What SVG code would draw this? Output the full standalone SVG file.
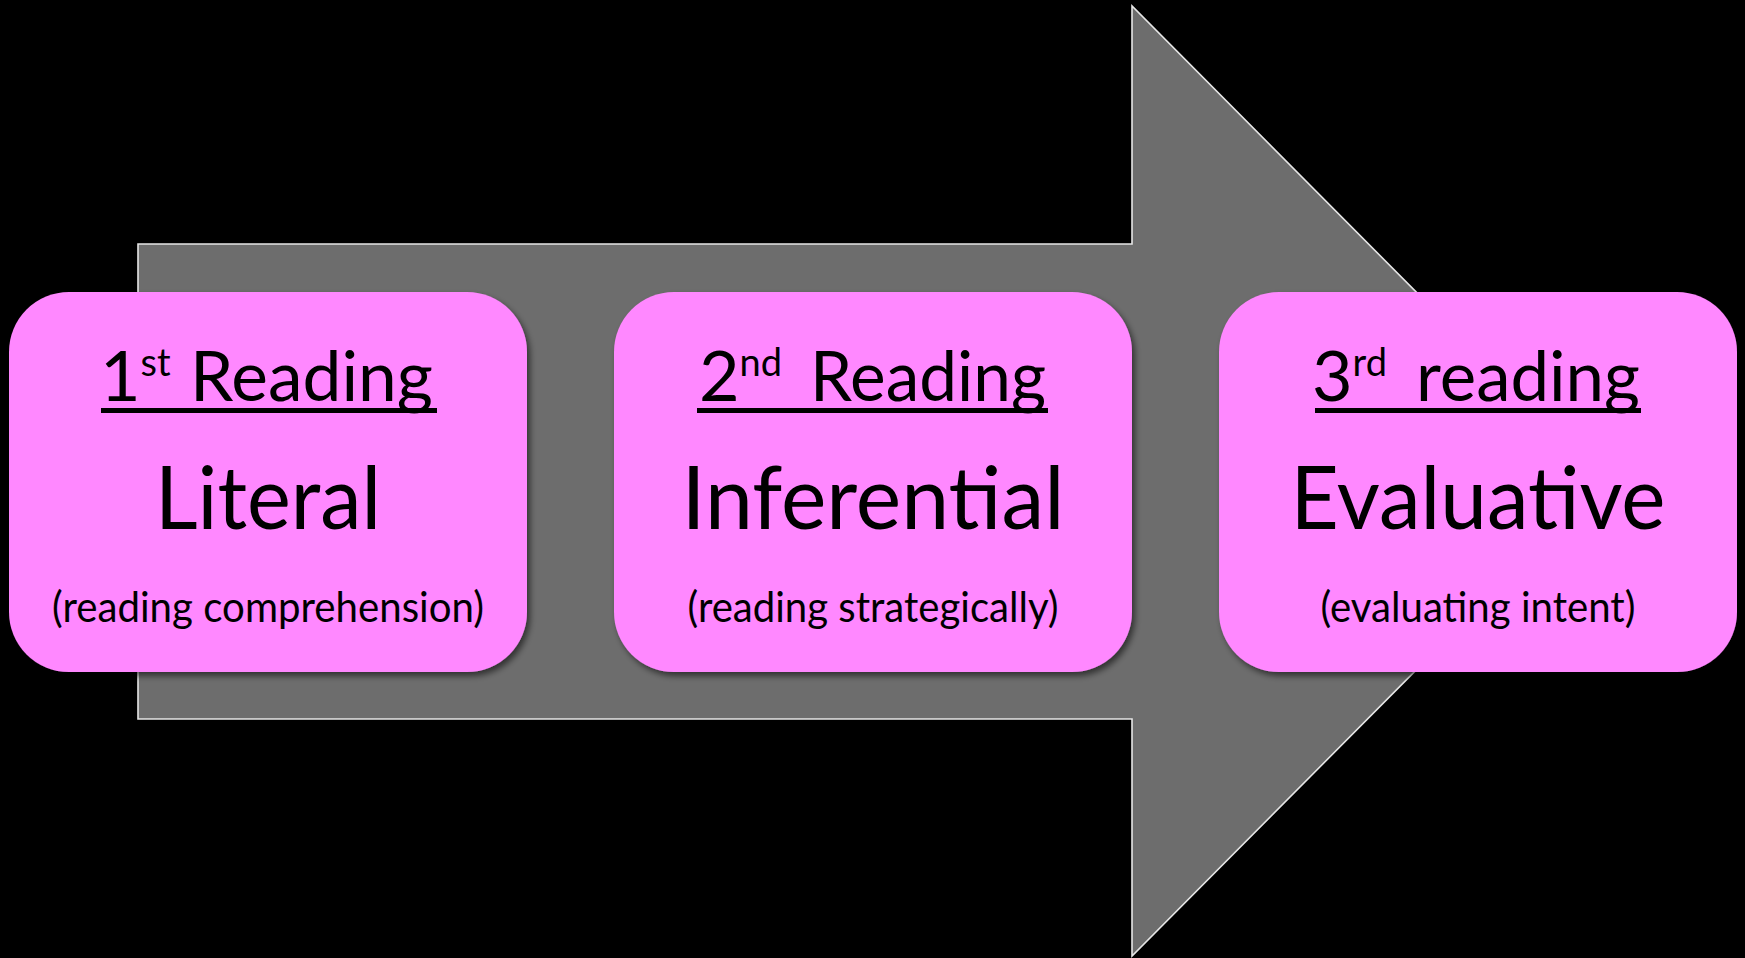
<svg xmlns="http://www.w3.org/2000/svg" width="1745" height="958" viewBox="0 0 1745 958">
  <defs>
    <filter id="shadow" x="-10%" y="-10%" width="120%" height="125%">
      <feDropShadow dx="3" dy="4" stdDeviation="3" flood-color="#000" flood-opacity="0.55"/>
    </filter>
  </defs>
  <style>
    .box { fill: #ff88ff; filter: url(#shadow); }
    .t { font-family: Lato, "Open Sans", "Liberation Sans", sans-serif; fill: #000; }
    .head { font-size: 70px; }
    .sup { font-size: 38px; }
    .main { font-size: 88px; }
    .sub { font-size: 42px; }
    .rule { fill: #000; }
  </style>

  <!-- background -->
  <rect x="0" y="0" width="1745" height="958" fill="#000"/>

  <!-- big progress arrow behind the stages -->
  <g id="connectors">
    <polygon points="138,244 1132,244 1132,6 1604,481 1132,956 1132,719 138,719"
             fill="#6d6d6d" stroke="#e6e6e6" stroke-width="1.6" stroke-linejoin="miter"/>
  </g>

  <!-- stage 1 -->
  <g id="stage-literal">
    <rect class="box" x="9" y="292" width="518" height="380" rx="60" ry="60"/>
    <text class="t head" x="100" y="401">1<tspan class="sup" dy="-25">st</tspan></text>
    <text class="t head" x="190" y="401" textLength="243" lengthAdjust="spacingAndGlyphs">Reading</text>
    <rect class="rule" x="101" y="408" width="336" height="5"/>
    <text class="t main" x="268" y="529" text-anchor="middle" textLength="226" lengthAdjust="spacingAndGlyphs">Literal</text>
    <text class="t sub" x="268" y="622" text-anchor="middle" textLength="432" lengthAdjust="spacingAndGlyphs">(reading comprehension)</text>
  </g>

  <!-- stage 2 -->
  <g id="stage-inferential">
    <rect class="box" x="614" y="292" width="518" height="380" rx="60" ry="60"/>
    <text class="t head" x="699" y="401">2<tspan class="sup" dy="-25">nd</tspan></text>
    <text class="t head" x="810" y="401" textLength="236" lengthAdjust="spacingAndGlyphs">Reading</text>
    <rect class="rule" x="697" y="408" width="351" height="5"/>
    <text class="t main" x="873" y="529" text-anchor="middle" textLength="383" lengthAdjust="spacingAndGlyphs">Inferential</text>
    <text class="t sub" x="873" y="622" text-anchor="middle" textLength="371" lengthAdjust="spacingAndGlyphs">(reading strategically)</text>
  </g>

  <!-- stage 3 -->
  <g id="stage-evaluative">
    <rect class="box" x="1219" y="292" width="518" height="380" rx="60" ry="60"/>
    <text class="t head" x="1312" y="401">3<tspan class="sup" dy="-25">rd</tspan></text>
    <text class="t head" x="1416" y="401" textLength="224" lengthAdjust="spacingAndGlyphs">reading</text>
    <rect class="rule" x="1315" y="408" width="326" height="5"/>
    <text class="t main" x="1478" y="529" text-anchor="middle" textLength="375" lengthAdjust="spacingAndGlyphs">Evaluative</text>
    <text class="t sub" x="1478" y="622" text-anchor="middle" textLength="315" lengthAdjust="spacingAndGlyphs">(evaluating intent)</text>
  </g>
</svg>
